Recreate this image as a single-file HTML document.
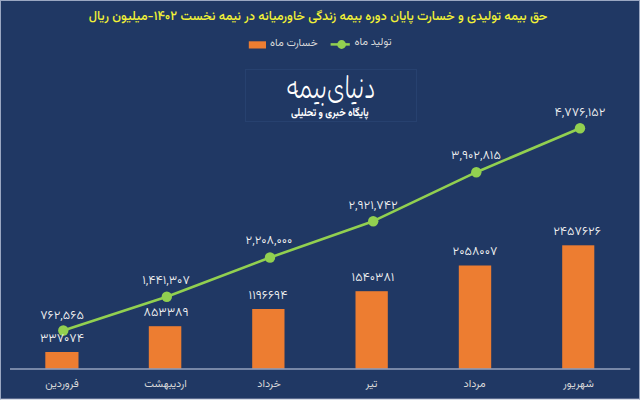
<!DOCTYPE html>
<html lang="fa"><head><meta charset="utf-8"><title>حق بیمه تولیدی و خسارت</title>
<style>
html,body{margin:0;padding:0}
body{width:640px;height:400px;overflow:hidden;position:relative;background:#203864}
.frame{position:absolute;left:0;top:0;width:638px;height:398px;border:1px solid #9AA7C2;border-bottom-color:#D8DCE6}
svg{position:absolute;left:0;top:0}
.t{position:absolute;text-align:center;direction:rtl;white-space:nowrap;line-height:1;font-family:"Vazirmatn","DejaVu Sans","Liberation Sans",sans-serif}
.dl{color:#F2F2F2;transform:scaleX(1.04);font-weight:350}
.cl{color:#D9D9D9}
.ti{color:#F2F236;font-weight:500}
.lg{color:#D9D9D9}
.logo{transform:scaleY(1.3);transform-origin:50% 50%;color:#fff;font-family:"Playpen Sans Arabic","Vazirmatn","DejaVu Sans",sans-serif;font-weight:300}
.sub{transform:scaleY(1.18);transform-origin:50% 50%;color:#fff;font-weight:700}
</style></head><body>
<div class="frame"></div>
<svg width="640" height="400" viewBox="0 0 640 400">
<rect x="45.30" y="352.00" width="33.20" height="17.00" fill="#ED7D31"/>
<rect x="148.80" y="326.20" width="32.50" height="42.80" fill="#ED7D31"/>
<rect x="252.20" y="309.00" width="32.30" height="60.00" fill="#ED7D31"/>
<rect x="355.50" y="291.20" width="32.30" height="77.80" fill="#ED7D31"/>
<rect x="458.80" y="265.50" width="32.40" height="103.50" fill="#ED7D31"/>
<rect x="562.20" y="245.30" width="32.10" height="123.70" fill="#ED7D31"/>
<rect x="10" y="368.20" width="620.3" height="1.6" fill="#8D9BB8"/>
<polyline points="63.3,330.5 166.8,296.8 270.0,257.5 373.2,221.2 476.3,172.2 580.0,128.3" fill="none" stroke="#92D050" stroke-width="2.6" stroke-linejoin="round"/>
<circle cx="63.3" cy="330.5" r="5.2" fill="#92D050"/>
<circle cx="166.8" cy="296.8" r="5.2" fill="#92D050"/>
<circle cx="270.0" cy="257.5" r="5.2" fill="#92D050"/>
<circle cx="373.2" cy="221.2" r="5.2" fill="#92D050"/>
<circle cx="476.3" cy="172.2" r="5.2" fill="#92D050"/>
<circle cx="580.0" cy="128.3" r="5.2" fill="#92D050"/>
<rect x="248.8" y="41.3" width="17.2" height="7.2" fill="#ED7D31"/>
<line x1="330.6" y1="44.4" x2="349.8" y2="44.4" stroke="#92D050" stroke-width="2.5"/>
<circle cx="341.6" cy="44.5" r="4.4" fill="#92D050"/>
<rect x="1" y="398" width="638" height="1" fill="#5A6A8E"/>
<rect x="245.5" y="69.5" width="171" height="52" fill="none" stroke="#27416F" stroke-width="1"/>
</svg>
<div id="title" class="t ti" style="left:8.10px;top:10.72px;width:620px;font-size:12.72px">حق بیمه تولیدی و خسارت پایان دوره بیمه زندگی خاورمیانه در نیمه نخست ۱۴۰۲-میلیون ریال</div>
<div id="lg1" class="t lg" style="left:233.87px;top:38.69px;width:120px;font-size:10.7px">خسارت ماه</div>
<div id="lg2" class="t lg" style="left:312.93px;top:38.48px;width:120px;font-size:10.7px">تولید ماه</div>
<div id="logo" class="t logo" style="left:231.19px;top:78.75px;width:200px;font-size:23px">دنیای‌بیمه</div>
<div id="sub" class="t sub" style="left:229.86px;top:109.45px;width:200px;font-size:9.45px">پایگاه خبری و تحلیلی</div>
<div id="ll0" class="t dl" style="left:2.23px;top:310.12px;width:120px;font-size:12.3px">۷۶۲,۵۶۵</div>
<div id="bl0" class="t dl" style="left:1.77px;top:332.57px;width:120px;font-size:12.3px">۳۳۷۰۷۴</div>
<div id="cl0" class="t cl" style="left:1.96px;top:379.55px;width:120px;font-size:10.9px">فروردین</div>
<div id="ll1" class="t dl" style="left:106.30px;top:275.21px;width:120px;font-size:12.3px">۱,۴۴۱,۳۰۷</div>
<div id="bl1" class="t dl" style="left:105.57px;top:307.06px;width:120px;font-size:12.3px">۸۵۳۳۸۹</div>
<div id="cl1" class="t cl" style="left:105.47px;top:379.55px;width:120px;font-size:10.9px">اردیبهشت</div>
<div id="ll2" class="t dl" style="left:209.29px;top:235.33px;width:120px;font-size:12.3px">۲,۲۰۸,۰۰۰</div>
<div id="bl2" class="t dl" style="left:207.62px;top:289.78px;width:120px;font-size:12.3px">۱۱۹۶۶۹۴</div>
<div id="cl2" class="t cl" style="left:209.09px;top:379.55px;width:120px;font-size:10.9px">خرداد</div>
<div id="ll3" class="t dl" style="left:312.63px;top:199.74px;width:120px;font-size:12.3px">۲,۹۲۱,۷۴۲</div>
<div id="bl3" class="t dl" style="left:312.57px;top:272.37px;width:120px;font-size:12.3px">۱۵۴۰۳۸۱</div>
<div id="cl3" class="t cl" style="left:311.54px;top:379.55px;width:120px;font-size:10.9px">تیر</div>
<div id="ll4" class="t dl" style="left:416.23px;top:150.20px;width:120px;font-size:12.3px">۳,۹۰۲,۸۱۵</div>
<div id="bl4" class="t dl" style="left:414.91px;top:245.93px;width:120px;font-size:12.3px">۲۰۵۸۰۰۷</div>
<div id="cl4" class="t cl" style="left:414.56px;top:379.55px;width:120px;font-size:10.9px">مرداد</div>
<div id="ll5" class="t dl" style="left:519.63px;top:106.95px;width:120px;font-size:12.3px">۴,۷۷۶,۱۵۲</div>
<div id="bl5" class="t dl" style="left:516.81px;top:225.51px;width:120px;font-size:12.3px">۲۴۵۷۶۲۶</div>
<div id="cl5" class="t cl" style="left:518.50px;top:379.55px;width:120px;font-size:10.9px">شهریور</div>
</body></html>
